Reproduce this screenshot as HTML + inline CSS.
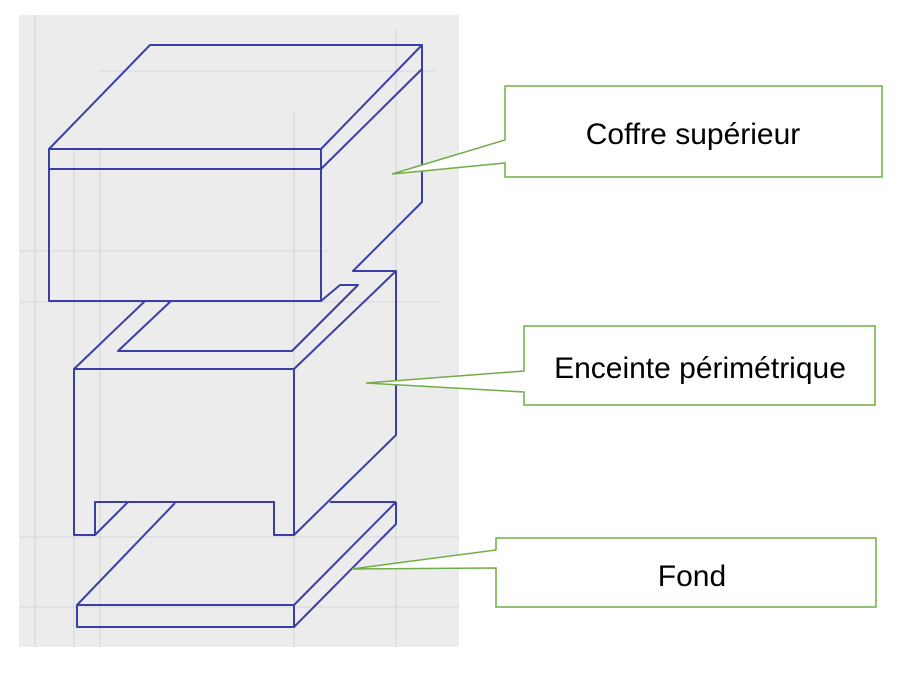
<!DOCTYPE html>
<html><head><meta charset="utf-8"><style>
html,body{margin:0;padding:0;background:#fff;width:907px;height:675px;overflow:hidden}
svg{display:block}
text{font-family:"Liberation Sans","DejaVu Sans",sans-serif;font-size:30px;fill:#000}
</style></head><body>
<svg width="907" height="675" viewBox="0 0 907 675">
<rect x="19" y="15" width="440" height="632" fill="#ececec"/>
<g stroke="#d0d0d0" stroke-width="0.8" fill="none">
<line x1="35" y1="15" x2="35" y2="647"/><line x1="74" y1="150" x2="74" y2="647"/>
<line x1="100" y1="150" x2="100" y2="647"/><line x1="294" y1="110" x2="294" y2="647"/>
<line x1="396" y1="30" x2="396" y2="647"/><line x1="20" y1="251" x2="330" y2="251"/>
<line x1="20" y1="302" x2="440" y2="302"/><line x1="20" y1="537" x2="459" y2="537"/>
<line x1="20" y1="607" x2="459" y2="607"/><line x1="100" y1="71" x2="435" y2="71"/>
</g>
<g stroke="#3a3fa8" stroke-width="2" fill="none" stroke-linejoin="round">
<polygon points="150,45 422,45 321,149 49,149"/>
<line x1="49" y1="169" x2="321" y2="169"/>
<line x1="321" y1="169" x2="422" y2="69"/>
<polyline points="49,149 49,301 321,301 321,149"/>
<polyline points="422,45 422,202 353,271 396,271 396,435 294,535"/>
<polyline points="321,301 340,285 358,285 292,351 118,351 171,301"/>
<polyline points="145,301 74,369 294,369 396,271"/>
<polyline points="74,369 74,535 95,535 95,502 274,502 274,535 294,535 294,369"/>
<line x1="95" y1="535" x2="128" y2="502"/>
<line x1="330" y1="502" x2="396" y2="502"/>
<line x1="175" y1="503" x2="77" y2="605"/>
<polygon points="77,605 294,605 294,627 77,627"/>
<line x1="294" y1="605" x2="396" y2="502"/>
<polyline points="396,502 396,524 294,627"/>
</g>
<g stroke="#70ad47" stroke-width="1.5" fill="#fff">
<polygon points="505,86 882,86 882,177 505,177 505,163 392,174 505,140"/>
<polygon points="524,326 875,326 875,405 524,405 524,392 366,383 524,371"/>
<polygon points="496,538 876,538 876,607 496,607 496,568 352,569 496,550"/>
</g>
<text x="693" y="144" text-anchor="middle">Coffre supérieur</text>
<text x="700" y="378" text-anchor="middle">Enceinte périmétrique</text>
<text x="692" y="586" text-anchor="middle">Fond</text>
</svg>
</body></html>
